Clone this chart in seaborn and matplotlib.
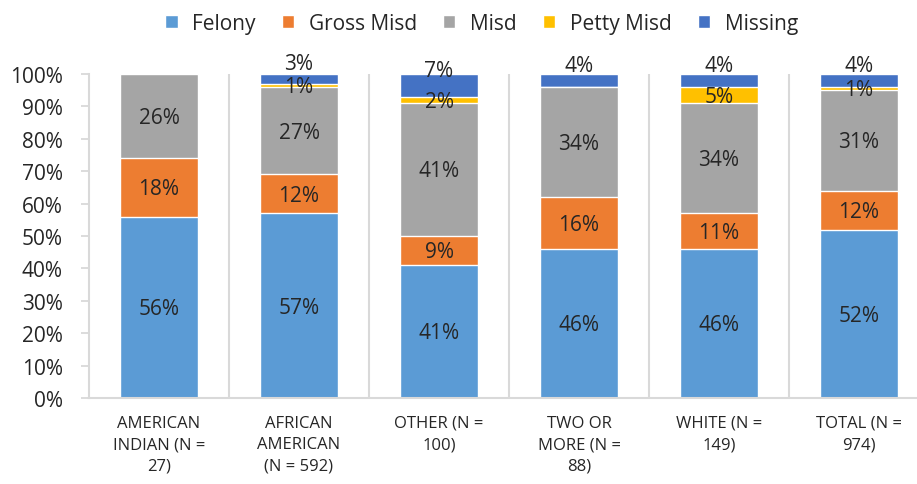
import numpy as np
import pandas as pd
import matplotlib.pyplot as plt
import seaborn as sns
from matplotlib.patches import Patch
from matplotlib.ticker import FixedLocator

# data (percent of each group)
groups = ['AMERICAN\nINDIAN (N =\n27)', 'AFRICAN\nAMERICAN\n(N = 592)', 'OTHER (N =\n100)',
          'TWO OR\nMORE (N =\n88)', 'WHITE (N =\n149)', 'TOTAL (N =\n974)']
felony = [56, 57, 41, 46, 46, 52]
gross_misd = [18, 12, 9, 16, 11, 12]
misd = [26, 27, 41, 34, 34, 31]
petty_misd = [0, 1, 2, 0, 5, 1]
missing = [0, 3, 7, 4, 4, 4]

series = ['Felony', 'Gross Misd', 'Misd', 'Petty Misd', 'Missing']
colors = ['#5B9BD5', '#ED7D31', '#A5A5A5', '#FFC000', '#4472C4']

df = pd.DataFrame(dict(zip(series, [felony, gross_misd, misd, petty_misd, missing])))
cum = df.cumsum(axis=1)

sns.set_style('white')
plt.rcParams['font.family'] = ['Open Sans', 'DejaVu Sans']
grid_col = '#D9D9D9'
text_col = '#262626'

fig = plt.figure(figsize=(9.17, 4.85), dpi=100)
ax = fig.add_axes([89 / 917, 86 / 485, 840 / 917, 324 / 485])

# stacked bars: draw cumulative totals from the top series down
for s, c in reversed(list(zip(series, colors))):
    sns.barplot(x=np.arange(len(groups)), y=cum[s].values, color=c, width=0.557,
                saturation=1, errorbar=None, ax=ax, native_scale=True)

# segment labels
for s in series:
    for i, v in enumerate(df[s]):
        if v <= 0:
            continue
        yc = cum[s][i] - v / 2
        dy = 11 if s == 'Missing' else -1
        ax.annotate(f'{v}%', (i, yc), xytext=(0, dy), textcoords='offset points',
                    ha='center', va='center', fontsize=15, color=text_col)

ax.set_xlim(-0.5, len(groups) - 0.5)
ax.set_ylim(0, 100)
ax.set_yticks(np.arange(0, 101, 10))
ax.set_yticklabels([f'{t}%' for t in range(0, 101, 10)])
ax.set_xticks(np.arange(len(groups)))
ax.set_xticklabels(groups, fontsize=12, linespacing=1.45)
ax.xaxis.set_minor_locator(FixedLocator(np.arange(0.5, len(groups) - 1, 1)))
ax.grid(which='minor', axis='x', color=grid_col, lw=1.5)
ax.set_axisbelow(True)

ax.tick_params(axis='y', which='major', length=6, width=1.3, color=grid_col,
               labelsize=15, labelcolor=text_col, pad=13, left=True)
ax.tick_params(axis='x', which='both', length=0, pad=12, labelcolor=text_col)
for side in ['top', 'right']:
    ax.spines[side].set_visible(False)
for side in ['left', 'bottom']:
    ax.spines[side].set_color(grid_col)
    ax.spines[side].set_linewidth(1.5)

handles = [Patch(facecolor=c, label=s) for s, c in zip(series, colors)]
fig.legend(handles=handles, loc='upper center', bbox_to_anchor=(0.525, 1.01), ncol=5,
           frameon=False, fontsize=15, handlelength=0.6, handleheight=0.6,
           handletextpad=0.7, columnspacing=1.25, labelcolor=text_col)

fig.savefig('out.png', dpi=100)
